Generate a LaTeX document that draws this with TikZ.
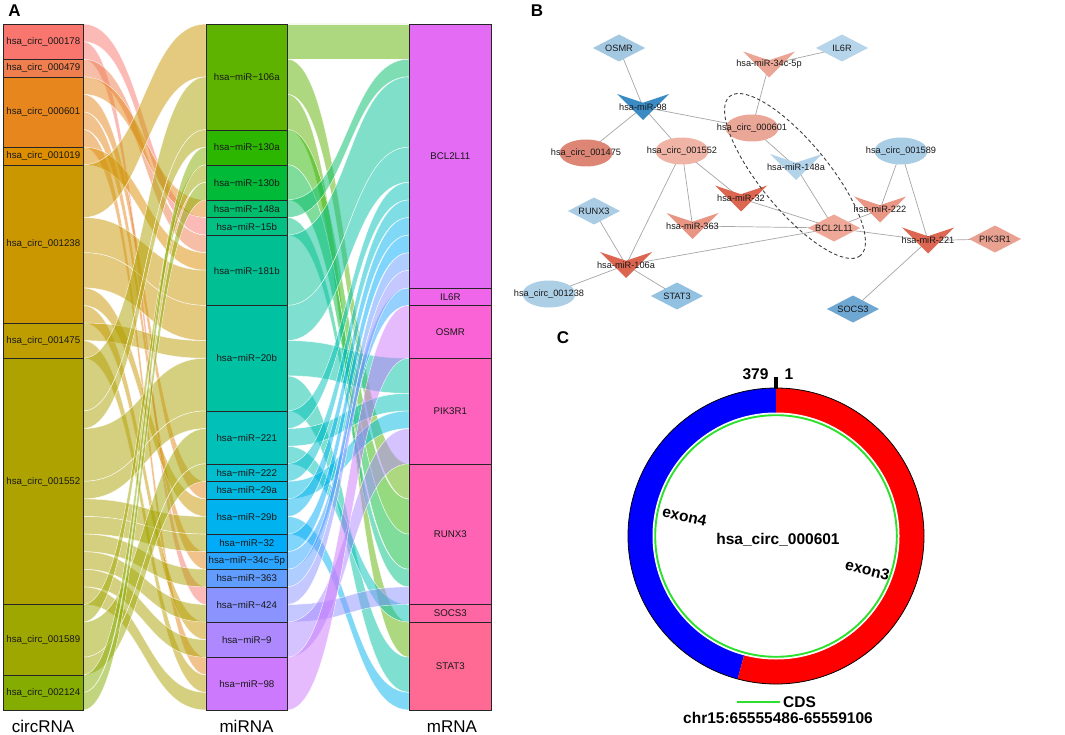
\documentclass[tikz,border=0pt]{standalone}
\usepackage{fontspec}
\setmainfont{Liberation Sans}
\definecolor{c178}{HTML}{F8766D}
\definecolor{c479}{HTML}{EF7F4F}
\definecolor{c601}{HTML}{E7861C}
\definecolor{c1019}{HTML}{DC8D00}
\definecolor{c1238}{HTML}{CA9700}
\definecolor{c1475}{HTML}{BD9D00}
\definecolor{c1552}{HTML}{ADA200}
\definecolor{c1589}{HTML}{9EA700}
\definecolor{c2124}{HTML}{85AC00}
\definecolor{m106a}{HTML}{5EB300}
\definecolor{m130a}{HTML}{2DB600}
\definecolor{m130b}{HTML}{00BA38}
\definecolor{m148a}{HTML}{00BD6B}
\definecolor{m15b}{HTML}{00C084}
\definecolor{m181b}{HTML}{00C093}
\definecolor{m20b}{HTML}{00C1A2}
\definecolor{m221}{HTML}{00C0B8}
\definecolor{m222}{HTML}{00BDCF}
\definecolor{m29a}{HTML}{00B9E0}
\definecolor{m29b}{HTML}{00B2ED}
\definecolor{m32}{HTML}{00ACFA}
\definecolor{m34c}{HTML}{2BA4FF}
\definecolor{m363}{HTML}{619CFF}
\definecolor{m424}{HTML}{8B93FF}
\definecolor{m9}{HTML}{AD88FF}
\definecolor{m98}{HTML}{CC79FD}
\definecolor{gbcl}{HTML}{E46CF5}
\definecolor{gil}{HTML}{F066EA}
\definecolor{gosmr}{HTML}{FA63D5}
\definecolor{gpik}{HTML}{FF62BC}
\definecolor{grunx}{HTML}{FF63B3}
\definecolor{gsocs}{HTML}{FF66A4}
\definecolor{gstat}{HTML}{FF6A95}
\definecolor{edgegray}{HTML}{A6A6A6}
\definecolor{cdsgreen}{HTML}{2EE02E}
\definecolor{bOSMR}{HTML}{A3C8E2}
\definecolor{bIL}{HTML}{B7D5EA}
\definecolor{b34}{HTML}{EBA594}
\definecolor{b98}{HTML}{3A8AC4}
\definecolor{b601}{HTML}{EAA696}
\definecolor{b1475}{HTML}{DE8676}
\definecolor{b1552}{HTML}{F0B4A6}
\definecolor{b1589}{HTML}{A9CDE5}
\definecolor{b148}{HTML}{B2D3EA}
\definecolor{b32}{HTML}{DC6650}
\definecolor{b363}{HTML}{E99583}
\definecolor{bRUNX}{HTML}{AACDE5}
\definecolor{bBCL}{HTML}{EFA898}
\definecolor{b222}{HTML}{E99685}
\definecolor{b221}{HTML}{DD6752}
\definecolor{bPIK}{HTML}{E9A191}
\definecolor{b106}{HTML}{DC6550}
\definecolor{b1238}{HTML}{ACCFE6}
\definecolor{bSTAT}{HTML}{93C1E1}
\definecolor{bSOCS}{HTML}{6EA7D2}
\def\U{17.5897}
\newcommand\flowrib[6]{%
  \pgfmathsetmacro\rya{24+#3*\U}%
  \pgfmathsetmacro\ryb{24+#4*\U}%
  \pgfmathsetmacro\ryc{24+(#4+#5)*\U}%
  \pgfmathsetmacro\ryd{24+(#3+#5)*\U}%
  \pgfmathsetmacro\rxm{(#1+#2)/2}%
  \path[ribbon, fill=#6] (#1,\rya) .. controls (\rxm,\rya) and (\rxm,\ryb) .. (#2,\ryb) -- (#2,\ryc) .. controls (\rxm,\ryc) and (\rxm,\ryd) .. (#1,\ryd) -- cycle;}
\newcommand\stratum[7]{%
  \pgfmathsetmacro\sty{24+#3*\U}%
  \pgfmathsetmacro\sth{#4*\U}%
  \node[strat, fill=#5, minimum width=#2pt, minimum height=\sth pt, anchor=north west] (#7) at (#1,\sty) {#6};}
\newcommand\vnode[3]{%
  \fill[#2, shift={(#1)}] (-26,-13) -- (0,-4.3) -- (26,-13) -- (0,13) -- cycle;
  \node[blab] (#1-l) at (#1) {#3};}
\newcommand\dnode[3]{%
  \fill[#2, shift={(#1)}] (-26,0) -- (0,-13.5) -- (26,0) -- (0,13.5) -- cycle;
  \node[blab] (#1-l) at (#1) {#3};}
\newcommand\enode[3]{%
  \fill[#2] (#1) ellipse (26.5 and 13.5);
  \node[blab] (#1-l) at (#1) {#3};}
\begin{document}
\begin{tikzpicture}[x=1pt,y=-1pt,
  ribbon/.style={fill opacity=.5, draw=white, draw opacity=.85, line width=.45pt},
  strat/.style={draw=black!85, line width=.6pt, inner sep=0pt, text=black!90, font=\fontsize{9.7}{11}\selectfont},
  blab/.style={inner sep=0pt, text=black!90, font=\fontsize{9.2}{10}\selectfont},
  axlab/.style={font=\fontsize{17}{19}\selectfont, anchor=base},
  plab/.style={font=\bfseries\fontsize{17}{19}\selectfont},
  clab/.style={font=\bfseries\fontsize{15.5}{17}\selectfont},
  edge/.style={draw=edgegray, line width=.7pt}]
\useasboundingbox (0,0) rectangle (1065,735);
\fill[white] (0,0) rectangle (1065,735);
% ---------- panel A : ribbons circRNA -> miRNA
\flowrib{83}{206}{0}{11}{1}{c178}
\flowrib{83}{206}{1}{32}{1}{c178}
\flowrib{83}{206}{2}{12}{1}{c479}
\flowrib{83}{206}{3}{10}{1}{c601}
\flowrib{83}{206}{4}{26}{1}{c601}
\flowrib{83}{206}{5}{30}{1}{c601}
\flowrib{83}{206}{6}{36}{1}{c601}
\flowrib{83}{206}{7}{13}{1}{c1019}
\flowrib{83}{206}{8}{0}{3}{c1238}
\flowrib{83}{206}{11}{14}{2}{c1238}
\flowrib{83}{206}{13}{16}{2}{c1238}
\flowrib{83}{206}{15}{27}{1}{c1238}
\flowrib{83}{206}{16}{34}{1}{c1238}
\flowrib{83}{206}{17}{18}{1}{c1475}
\flowrib{83}{206}{18}{37}{1}{c1475}
\flowrib{83}{206}{19}{3}{3}{c1552}
\flowrib{83}{206}{22}{6}{1}{c1552}
\flowrib{83}{206}{23}{19}{3}{c1552}
\flowrib{83}{206}{26}{22}{1}{c1552}
\flowrib{83}{206}{27}{28}{1}{c1552}
\flowrib{83}{206}{28}{29}{1}{c1552}
\flowrib{83}{206}{29}{31}{1}{c1552}
\flowrib{83}{206}{30}{33}{1}{c1552}
\flowrib{83}{206}{31}{35}{1}{c1552}
\flowrib{83}{206}{32}{38}{1}{c1552}
\flowrib{83}{206}{33}{8}{1}{c1589}
\flowrib{83}{206}{34}{23}{2}{c1589}
\flowrib{83}{206}{36}{25}{1}{c1589}
\flowrib{83}{206}{37}{7}{1}{c2124}
\flowrib{83}{206}{38}{9}{1}{c2124}
% ---------- ribbons miRNA -> mRNA
\flowrib{287}{409}{0}{0}{2}{m106a}
\flowrib{287}{409}{2}{25}{2}{m106a}
\flowrib{287}{409}{4}{34}{2}{m106a}
\flowrib{287}{409}{6}{27}{2}{m130a}
\flowrib{287}{409}{8}{29}{2}{m130b}
\flowrib{287}{409}{10}{2}{1}{m148a}
\flowrib{287}{409}{11}{31}{1}{m15b}
\flowrib{287}{409}{12}{3}{4}{m181b}
\flowrib{287}{409}{16}{7}{2}{m20b}
\flowrib{287}{409}{18}{19}{2}{m20b}
\flowrib{287}{409}{20}{36}{2}{m20b}
\flowrib{287}{409}{22}{9}{1}{m221}
\flowrib{287}{409}{23}{21}{1}{m221}
\flowrib{287}{409}{24}{33}{1}{m221}
\flowrib{287}{409}{25}{10}{1}{m222}
\flowrib{287}{409}{26}{22}{1}{m29a}
\flowrib{287}{409}{27}{11}{1}{m29b}
\flowrib{287}{409}{28}{38}{1}{m29b}
\flowrib{287}{409}{29}{12}{1}{m32}
\flowrib{287}{409}{30}{15}{1}{m34c}
\flowrib{287}{409}{31}{13}{1}{m363}
\flowrib{287}{409}{32}{14}{1}{m424}
\flowrib{287}{409}{33}{32}{1}{m424}
\flowrib{287}{409}{34}{23}{2}{m9}
\flowrib{287}{409}{36}{16}{3}{m98}
% ---------- strata
\stratum{3}{80}{0}{2}{c178}{hsa\_circ\_000178}{s178}
\stratum{3}{80}{2}{1}{c479}{hsa\_circ\_000479}{s479}
\stratum{3}{80}{3}{4}{c601}{hsa\_circ\_000601}{s601}
\stratum{3}{80}{7}{1}{c1019}{hsa\_circ\_001019}{s1019}
\stratum{3}{80}{8}{9}{c1238}{hsa\_circ\_001238}{s1238}
\stratum{3}{80}{17}{2}{c1475}{hsa\_circ\_001475}{s1475}
\stratum{3}{80}{19}{14}{c1552}{hsa\_circ\_001552}{s1552}
\stratum{3}{80}{33}{4}{c1589}{hsa\_circ\_001589}{s1589}
\stratum{3}{80}{37}{2}{c2124}{hsa\_circ\_002124}{s2124}
\stratum{206}{81}{0}{6}{m106a}{hsa−miR−106a}{r106a}
\stratum{206}{81}{6}{2}{m130a}{hsa−miR−130a}{r130a}
\stratum{206}{81}{8}{2}{m130b}{hsa−miR−130b}{r130b}
\stratum{206}{81}{10}{1}{m148a}{hsa−miR−148a}{r148a}
\stratum{206}{81}{11}{1}{m15b}{hsa−miR−15b}{r15b}
\stratum{206}{81}{12}{4}{m181b}{hsa−miR−181b}{r181b}
\stratum{206}{81}{16}{6}{m20b}{hsa−miR−20b}{r20b}
\stratum{206}{81}{22}{3}{m221}{hsa−miR−221}{r221}
\stratum{206}{81}{25}{1}{m222}{hsa−miR−222}{r222}
\stratum{206}{81}{26}{1}{m29a}{hsa−miR−29a}{r29a}
\stratum{206}{81}{27}{2}{m29b}{hsa−miR−29b}{r29b}
\stratum{206}{81}{29}{1}{m32}{hsa−miR−32}{r32}
\stratum{206}{81}{30}{1}{m34c}{hsa−miR−34c−5p}{r34c}
\stratum{206}{81}{31}{1}{m363}{hsa−miR−363}{r363}
\stratum{206}{81}{32}{2}{m424}{hsa−miR−424}{r424}
\stratum{206}{81}{34}{2}{m9}{hsa−miR−9}{r9}
\stratum{206}{81}{36}{3}{m98}{hsa−miR−98}{r98}
\stratum{409}{82}{0}{15}{gbcl}{BCL2L11}{gBCL}
\stratum{409}{82}{15}{1}{gil}{IL6R}{gIL}
\stratum{409}{82}{16}{3}{gosmr}{OSMR}{gOSMR}
\stratum{409}{82}{19}{6}{gpik}{PIK3R1}{gPIK}
\stratum{409}{82}{25}{8}{grunx}{RUNX3}{gRUNX}
\stratum{409}{82}{33}{1}{gsocs}{SOCS3}{gSOCS}
\stratum{409}{82}{34}{5}{gstat}{STAT3}{gSTAT}
\node[axlab] (axc) at (43,732.5) {circRNA};
\node[axlab] (axm) at (246.5,732.5) {miRNA};
\node[axlab] (axg) at (452,732.5) {mRNA};
\node[plab] (pA) at (14.5,11) {A};
\node[plab] (pB) at (537,11) {B};
\node[plab] (pC) at (563,338) {C};
% ---------- panel B : network
\coordinate (osmr) at (619,48);
\coordinate (il6r) at (842,48);
\coordinate (m34) at (769,64.5);
\coordinate (n98) at (643,107);
\coordinate (e601) at (752,128);
\coordinate (e1475) at (586,153);
\coordinate (e1552) at (682,151);
\coordinate (e1589) at (901,151);
\coordinate (n148) at (796,167);
\coordinate (n32) at (741,198.5);
\coordinate (n363) at (692.5,226);
\coordinate (runx) at (594,211);
\coordinate (bcl) at (834,228);
\coordinate (n222) at (880,209.5);
\coordinate (n221) at (928,240.5);
\coordinate (pik) at (995,239);
\coordinate (n106) at (626,265);
\coordinate (e1238) at (549,294);
\coordinate (stat) at (677,296);
\coordinate (socs) at (853,309);
\draw[edge] (osmr) -- (n98);
\draw[edge] (m34) -- (il6r);
\draw[edge] (m34) -- (e601);
\draw[edge] (n98) -- (e601);
\draw[edge] (n98) -- (e1475);
\draw[edge] (n98) -- (e1552);
\draw[edge] (e601) -- (n148);
\draw[edge] (n148) -- (bcl);
\draw[edge] (e1552) -- (n32);
\draw[edge] (e1552) -- (n363);
\draw[edge] (e1552) -- (n106);
\draw[edge] (n32) -- (bcl);
\draw[edge] (n363) -- (bcl);
\draw[edge] (n106) -- (bcl);
\draw[edge] (runx) -- (n106);
\draw[edge] (n106) -- (e1238);
\draw[edge] (n106) -- (stat);
\draw[edge] (e1589) -- (n222);
\draw[edge] (e1589) -- (n221);
\draw[edge] (n222) -- (bcl);
\draw[edge] (bcl) -- (n221);
\draw[edge] (n221) -- (pik);
\draw[edge] (n221) -- (socs);
\dnode{osmr}{bOSMR}{OSMR}
\dnode{il6r}{bIL}{IL6R}
\vnode{m34}{b34}{hsa-miR-34c-5p}
\vnode{n98}{b98}{hsa-miR-98}
\enode{e601}{b601}{hsa\_circ\_000601}
\enode{e1475}{b1475}{hsa\_circ\_001475}
\enode{e1552}{b1552}{hsa\_circ\_001552}
\enode{e1589}{b1589}{hsa\_circ\_001589}
\vnode{n148}{b148}{hsa-miR-148a}
\vnode{n32}{b32}{hsa-miR-32}
\vnode{n363}{b363}{hsa-miR-363}
\dnode{runx}{bRUNX}{RUNX3}
\dnode{bcl}{bBCL}{BCL2L11}
\vnode{n222}{b222}{hsa-miR-222}
\vnode{n221}{b221}{hsa-miR-221}
\dnode{pik}{bPIK}{PIK3R1}
\vnode{n106}{b106}{hsa-miR-106a}
\enode{e1238}{b1238}{hsa\_circ\_001238}
\dnode{stat}{bSTAT}{STAT3}
\dnode{socs}{bSOCS}{SOCS3}
\draw[black!75, line width=.9pt, dash pattern=on 3.5pt off 2.5pt, rotate around={-50.6:(795,176)}] (795,176) ellipse (103 and 34);
% ---------- panel C : circRNA structure
\begin{scope}[shift={(776,536)}, y=1pt]
  \fill[blue] (90:148) arc[start angle=90, end angle=255, radius=148] -- (255:123) arc[start angle=255, end angle=90, radius=123] -- cycle;
  \fill[red] (255:148) arc[start angle=255, end angle=450, radius=148] -- (90:123) arc[start angle=450, end angle=255, radius=123] -- cycle;
  \draw[black, line width=.8pt] (0,0) circle[radius=148];
  \draw[white, line width=1pt] (0,0) circle[radius=123];
  \draw[cdsgreen, line width=1.9pt] (0,0) circle[radius=120.8];
  \fill[black] (-2.2,147.5) rectangle (2.2,159.5);
  \node[clab, anchor=base east] (n379) at (-4,157) {379};
  \node[clab, anchor=base west] (n1) at (5,157) {1};
  \node[clab, rotate=-12, inner sep=0pt] (ex4) at (-91.5,19.5) {exon4};
  \node[clab, rotate=-14, inner sep=0pt] (ex3) at (91.5,-34) {exon3};
  \node[clab] (cname) at (2,-4) {hsa\_circ\_000601};
  \coordinate (cdsa) at (-39,-166);
  \coordinate (cdsb) at (4,-166);
  \node[clab, anchor=west, inner sep=0pt] (cds) at (7,-166) {CDS};
  \draw[cdsgreen, line width=1.9pt] (cdsa) -- (cdsb);
  \node[clab] (chr) at (2,-182) {chr15:65555486-65559106};
\end{scope}
\end{tikzpicture}
\end{document}
